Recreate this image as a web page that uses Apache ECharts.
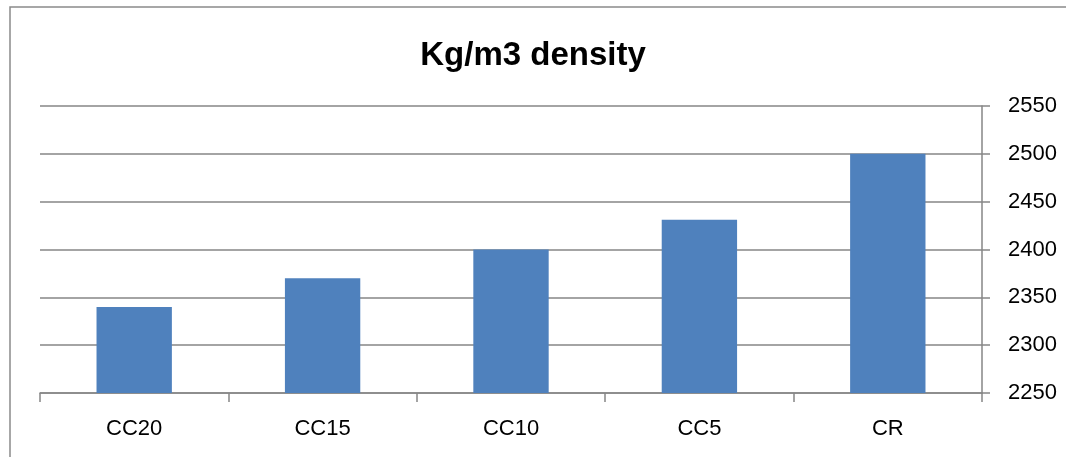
<!DOCTYPE html>
<html>
<head>
<meta charset="utf-8">
<script src="https://cdn.jsdelivr.net/npm/echarts@6/dist/echarts.min.js"></script>
<style>
  html, body { margin: 0; padding: 0; background: #ffffff; }
  #chart { width: 1066px; height: 457px; }
</style>
</head>
<body>
<div id="chart"></div>
<script>
// Density of each mix, kg/m3
const categories = ['CC20', 'CC15', 'CC10', 'CC5', 'CR'];
const density = [2340, 2370, 2400, 2431, 2500];
const yTicks = { min: 2250, max: 2550, step: 50 };

const font = '"Liberation Sans", Arial, sans-serif';
const gray = '#868686';

const chart = echarts.init(document.getElementById('chart'), null, { renderer: 'canvas' });
chart.setOption({
  animation: false,
  backgroundColor: '#ffffff',
  title: {
    text: 'Kg/m3 density',
    left: 'center',
    top: 34,
    textStyle: { fontFamily: font, fontWeight: 'bold', fontSize: 33, color: '#000000' }
  },
  graphic: [{
    type: 'rect',
    shape: { x: 10, y: 7, width: 1100, height: 500 },
    style: { fill: 'none', stroke: '#8a8a8a', lineWidth: 1.5 },
    silent: true
  }],
  grid: { left: 40, right: 84, top: 106, bottom: 64 },
  xAxis: {
    type: 'category',
    data: categories,
    boundaryGap: true,
    axisLine: { show: true, lineStyle: { color: gray, width: 1.5 } },
    axisTick: { show: true, length: 9, alignWithLabel: false, lineStyle: { color: gray, width: 1.5 } },
    axisLabel: { margin: 25, fontFamily: font, fontSize: 22, color: '#000000' },
    splitLine: { show: false }
  },
  yAxis: {
    type: 'value',
    position: 'right',
    min: yTicks.min,
    max: yTicks.max,
    interval: yTicks.step,
    axisLine: { show: true, lineStyle: { color: gray, width: 1.5 } },
    axisTick: { show: true, inside: false, length: 8, lineStyle: { color: gray, width: 1.5 } },
    axisLabel: {
      margin: 26, fontFamily: font, fontSize: 22, color: '#000000',
      formatter: (v) => String(v)
    },
    splitLine: { show: true, lineStyle: { color: gray, width: 1.5 } }
  },
  series: [{
    type: 'bar',
    data: density,
    barWidth: '40%',
    itemStyle: { color: '#4F81BD' }
  }]
});
</script>
</body>
</html>
